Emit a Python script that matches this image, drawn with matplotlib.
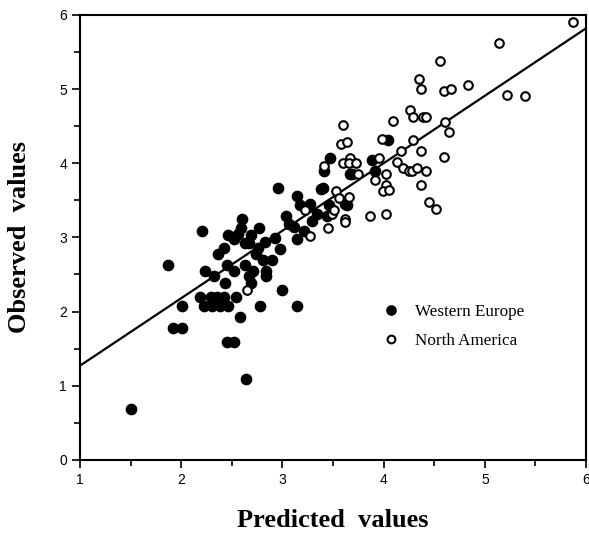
import numpy as np
import matplotlib
matplotlib.use('Agg')
import matplotlib.pyplot as plt
from matplotlib.ticker import MultipleLocator

# Western Europe (filled) - predicted vs observed
we_pred = [1.50, 1.87, 1.92, 2.01, 2.01, 2.20, 2.23, 2.18, 2.22, 2.32, 2.36, 2.42,
           2.43, 2.29, 2.35, 2.42, 2.30, 2.38, 2.46, 2.45, 2.46, 2.52, 2.52, 2.54,
           2.45, 2.52, 2.58, 2.60, 2.59, 2.56, 2.63, 2.64, 2.63, 2.67, 2.69, 2.71,
           2.69, 2.67, 2.74, 2.77, 2.76, 2.78, 2.81, 2.83, 2.84, 2.84, 2.90, 2.93,
           2.96, 2.98, 3.00, 3.03, 3.06, 3.11, 3.14, 3.14, 3.14, 3.17, 3.21, 3.27,
           3.29, 3.34, 3.38, 3.40, 3.41, 3.44, 3.46, 3.47, 3.62, 3.64, 3.67, 3.69,
           3.88, 3.91, 4.04]
we_obs = [0.69, 2.63, 1.78, 1.78, 2.07, 3.08, 2.55, 2.20, 2.07, 2.48, 2.77, 2.85,
          2.39, 2.20, 2.20, 2.20, 2.07, 2.07, 2.07, 2.63, 3.03, 2.98, 2.55, 2.20,
          1.59, 1.59, 1.92, 3.25, 3.12, 3.05, 2.63, 1.09, 2.93, 2.48, 3.03, 2.55,
          2.39, 2.93, 2.77, 3.13, 2.85, 2.07, 2.70, 2.94, 2.55, 2.48, 2.69, 2.99,
          3.67, 2.84, 2.29, 3.29, 3.18, 3.14, 3.56, 2.98, 2.07, 3.44, 3.08, 3.45,
          3.22, 3.32, 3.65, 3.67, 3.90, 3.29, 3.44, 4.07, 3.45, 3.43, 3.85, 3.85,
          4.04, 3.90, 4.31]

# North America (open)
na_pred = [2.65, 3.27, 3.22, 3.41, 3.45, 3.49, 3.51, 3.53, 3.56, 3.60, 3.58, 3.64,
           3.60, 3.62, 3.62, 3.67, 3.66, 3.66, 3.73, 3.75, 3.86, 3.91, 3.95, 3.98,
           4.02, 4.02, 3.99, 4.05, 4.02, 4.09, 4.13, 4.17, 4.19, 4.25, 4.28, 4.26,
           4.29, 4.29, 4.33, 4.35, 4.37, 4.37, 4.37, 4.39, 4.42, 4.42, 4.45, 4.52,
           4.56, 4.60, 4.61, 4.60, 4.65, 4.67, 4.83, 5.14, 5.22, 5.40, 5.87]
na_obs = [2.29, 3.02, 3.37, 3.96, 3.12, 3.32, 3.37, 3.63, 3.53, 4.52, 4.26, 4.29,
          4.00, 3.25, 3.21, 4.07, 4.00, 3.55, 4.00, 3.86, 3.29, 3.77, 4.07, 4.33,
          3.86, 3.71, 3.62, 3.64, 3.31, 4.57, 4.02, 4.17, 3.94, 3.90, 3.90, 4.72,
          4.62, 4.31, 3.93, 5.14, 5.00, 4.16, 3.71, 4.62, 4.62, 3.90, 3.48, 3.38,
          5.38, 4.97, 4.55, 4.09, 4.42, 5.00, 5.05, 5.62, 4.92, 4.91, 5.91]

# regression line
line_x = [1, 6]
line_y = [1.27, 5.82]

fig = plt.figure(figsize=(5.89, 5.34), dpi=100)
ax = fig.add_axes([0.136, 0.139, 0.859, 0.833])

ax.plot(line_x, line_y, color='black', lw=1.6, zorder=1)
ax.plot(we_pred, we_obs, 'o', color='black', ms=7.4, ls='none',
        label='Western Europe', zorder=2)
ax.plot(na_pred, na_obs, 'o', mfc='white', mec='black', mew=1.5, ms=6.2,
        ls='none', label='North America', zorder=3)

ax.set_xlim(1, 6)
ax.set_ylim(0, 6)
ax.xaxis.set_major_locator(MultipleLocator(1))
ax.xaxis.set_minor_locator(MultipleLocator(0.5))
ax.yaxis.set_major_locator(MultipleLocator(1))
ax.yaxis.set_minor_locator(MultipleLocator(0.5))
ax.tick_params(which='both', direction='out', top=False, right=False, width=1.2)
ax.tick_params(which='major', length=6, labelsize=10)
ax.tick_params(which='minor', length=4)
for lab in ax.get_xticklabels() + ax.get_yticklabels():
    lab.set_fontfamily('Liberation Sans')
for s in ax.spines.values():
    s.set_linewidth(1.5)

ax.set_xlabel('Predicted  values', fontfamily='Liberation Serif',
              fontweight='bold', fontsize=19, labelpad=16)
ax.set_ylabel('Observed  values', fontfamily='Liberation Serif',
              fontweight='bold', fontsize=19, labelpad=20)

leg = ax.legend(loc='upper left', bbox_to_anchor=(0.55, 0.385), frameon=False,
                prop={'family': 'Liberation Serif', 'size': 12.3},
                handletextpad=0.4, labelspacing=0.75, markerscale=0.9)

fig.savefig('out.png', dpi=100)
